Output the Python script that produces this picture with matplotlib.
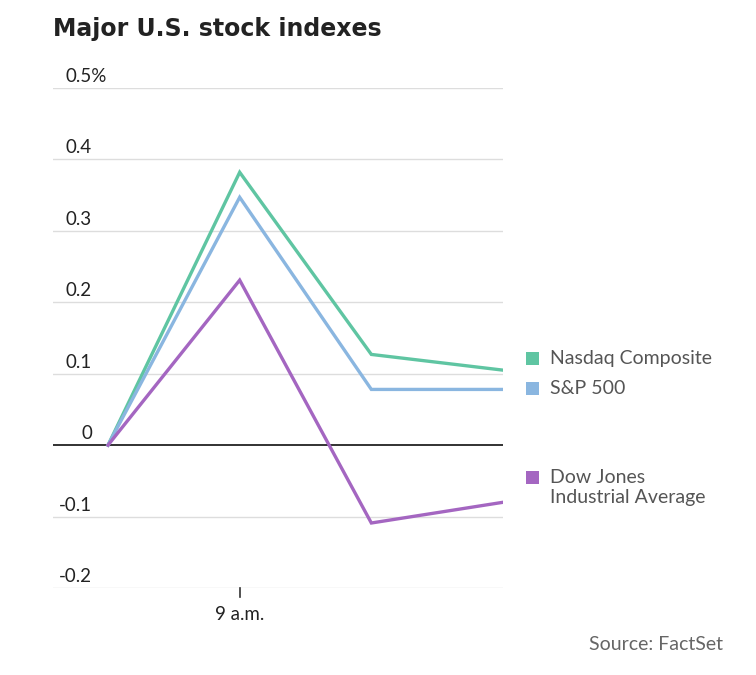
import matplotlib
matplotlib.use("Agg")
import matplotlib.pyplot as plt
from matplotlib.patches import Rectangle

title = "Major U.S. stock indexes"
source = "Source: FactSet"
series_names = ["Nasdaq Composite", "S&P 500", "Dow Jones\nIndustrial Average"]
nasdaq = [0.0, 0.382, 0.127, 0.105]
sp500 = [0.0, 0.347, 0.078, 0.078]
dow = [0.0, 0.231, -0.109, -0.080]
colors = ["#5fc5a2", "#8ab6e0", "#a466c1"]
y_ticks = [-0.2, -0.1, 0, 0.1, 0.2, 0.3, 0.4, 0.5]
y_tick_labels = ["-0.2", "-0.1", "0", "0.1", "0.2", "0.3", "0.4", "0.5%"]
x_tick_pos = [1]
x_tick_labels = ["9 a.m."]

W, H = 756, 675
fig = plt.figure(figsize=(W / 100, H / 100), dpi=100)
ax = fig.add_axes([53 / W, (H - 588) / H, (503 - 53) / W, 500 / H])
ax.set_xlim(-0.418, 3)
ax.set_ylim(-0.2, 0.5)
for s in ax.spines.values():
    s.set_visible(False)
ax.set_xticks([])
ax.set_yticks([])

for t in y_ticks:
    if t == 0:
        ax.axhline(0, color="#222222", lw=1.3, zorder=3)
    else:
        ax.axhline(t, color="#dddddd", lw=1.0, zorder=1)

xs = list(range(len(nasdaq)))
for vals, c in zip([nasdaq, sp500, dow], colors):
    ax.plot(xs, vals, color=c, lw=2.4, zorder=4, solid_joinstyle="miter")

# y tick labels
for t, lab in zip(y_ticks, y_tick_labels):
    ypix = 588 - (t + 0.2) / 0.7 * 500
    if lab.endswith("%"):
        fig.text(65 / W, (H - ypix + 3) / H, lab, ha="left", va="bottom",
                 fontsize=13.5, family="Lato", color="#222222")
    else:
        fig.text(92 / W, (H - ypix + 3) / H, lab, ha="right", va="bottom",
                 fontsize=13.5, family="Lato", color="#222222")

# x tick
for p, lab in zip(x_tick_pos, x_tick_labels):
    ax.plot([p, p], [-0.2, -0.2 - 9 / 500 * 0.7], color="#333333", lw=1.2, clip_on=False)
    ax.text(p, -0.2 - 18 / 500 * 0.7, lab, ha="center", va="top", fontsize=13.5,
            family="Lato", color="#222222")

# legend
leg_pix = [358, 388, 477]
for name, c, yp in zip(series_names, colors, leg_pix):
    fig.patches.append(Rectangle((526 / W, (H - yp - 6.5) / H), 13 / W, 13 / H,
                                 transform=fig.transFigure, facecolor=c, edgecolor="none"))
    fig.text(550 / W, (H - yp + 8) / H, name, ha="left", va="top", fontsize=14,
             family="Lato", color="#555555", linespacing=1.2)

fig.text(53 / W, (H - 29) / H, title, ha="left", va="center", fontsize=17,
         family="DejaVu Sans", weight="bold", color="#222222")
fig.text(723 / W, (H - 645) / H, source, ha="right", va="center", fontsize=14,
         family="Lato", color="#666666")

fig.savefig("out.png", dpi=100)
